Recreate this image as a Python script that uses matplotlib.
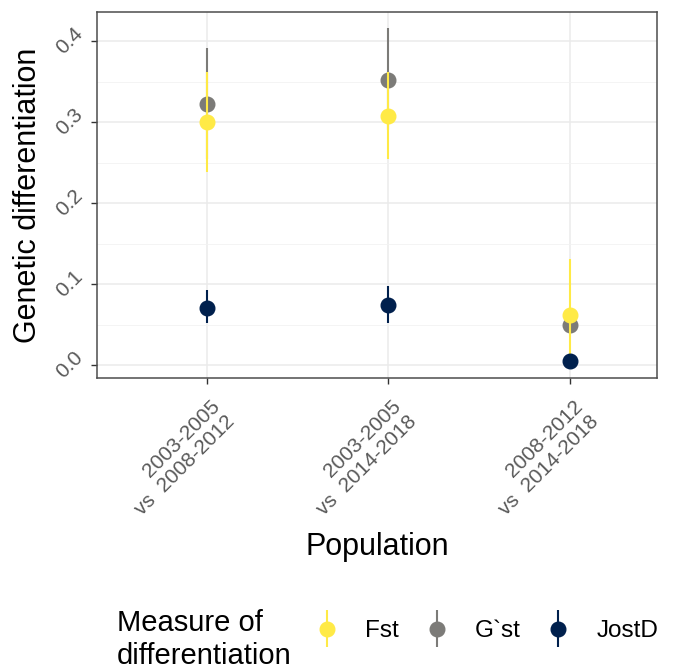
import numpy as np
import matplotlib.pyplot as plt
import matplotlib.transforms as mtransforms
from matplotlib.container import ErrorbarContainer
from matplotlib.legend_handler import HandlerErrorbar

plt.rcParams['font.family'] = ['Liberation Sans', 'DejaVu Sans']

# pairwise comparisons between sampling periods
populations = ['2003-2005\nvs  2008-2012', '2003-2005\nvs  2014-2018', '2008-2012\nvs  2014-2018']
measures = ['Fst', 'G`st', 'JostD']
colours = {'Fst': '#FFEA46', 'G`st': '#7C7B78', 'JostD': '#00204D'}

fst_mean = [0.300, 0.307, 0.062]
fst_low = [0.238, 0.255, 0.006]
fst_high = [0.362, 0.362, 0.131]

gst_mean = [0.322, 0.352, 0.049]
gst_low = [0.255, 0.290, 0.040]
gst_high = [0.391, 0.416, 0.058]

jost_mean = [0.071, 0.074, 0.005]
jost_low = [0.052, 0.052, 0.001]
jost_high = [0.093, 0.098, 0.010]

series = {
    'Fst': (fst_mean, fst_low, fst_high),
    'G`st': (gst_mean, gst_low, gst_high),
    'JostD': (jost_mean, jost_low, jost_high),
}
zorders = {'G`st': 3, 'Fst': 4, 'JostD': 5}

fig = plt.figure(figsize=(6.77, 6.69), dpi=100)
ax = fig.add_axes([97 / 677, 1 - 378 / 669, 560 / 677, 366 / 669])

x = np.arange(1, len(populations) + 1)
handles = {}
for m in measures:
    mean, low, high = (np.array(v) for v in series[m])
    err = np.vstack([mean - low, high - mean])
    h = ax.errorbar(x, mean, yerr=err, fmt='o', color=colours[m], ms=10.5,
                    elinewidth=1.5, capsize=0, zorder=zorders[m], label=m)
    handles[m] = h

ax.set_xlim(0.395, 3.48)
ax.set_ylim(-0.016, 0.436)
ax.set_xticks(x)
ax.set_xticklabels(populations)
ax.set_yticks([0.0, 0.1, 0.2, 0.3, 0.4])
ax.set_yticks([0.05, 0.15, 0.25, 0.35], minor=True)
ax.set_yticklabels(['0.0', '0.1', '0.2', '0.3', '0.4'])

ax.grid(True, which='major', color='#EBEBEB', lw=1.1, zorder=0)
ax.grid(True, which='minor', axis='y', color='#F2F2F2', lw=0.6, zorder=0)
ax.set_axisbelow(True)
for s in ax.spines.values():
    s.set_color('#4D4D4D')
    s.set_linewidth(1.1)

ax.tick_params(axis='both', which='major', length=4, width=1.0, color='#333333',
               labelcolor='#595959', labelsize=15)
ax.tick_params(axis='y', which='minor', length=0)
for lab in ax.get_yticklabels():
    lab.set_rotation(45)
    lab.set_ha('right')
    lab.set_va('center')
shift = mtransforms.ScaledTranslation(0.03, -0.08, fig.dpi_scale_trans)
for lab in ax.get_xticklabels():
    lab.set_rotation(45)
    lab.set_rotation_mode('anchor')
    lab.set_ha('right')
    lab.set_va('top')
    lab.set_multialignment('right')
    lab.set_transform(lab.get_transform() + shift)

ax.set_xlabel('Population', fontsize=22, va='center')
ax.set_ylabel('Genetic differentiation', fontsize=22, va='center')
ax.xaxis.set_label_coords(0.5, (378 - 547) / 366)
ax.yaxis.set_label_coords((28 - 97) / 560, 0.5)

# legend along the bottom with its title on the left
fig.text(117 / 677, 1 - 609 / 669, 'Measure of\ndifferentiation', fontsize=21,
         ha='left', va='top', linespacing=1.25)
leg = fig.legend([handles[m] for m in measures], measures, loc='center left',
                 bbox_to_anchor=(315 / 677, 1 - 631 / 669), ncol=3, frameon=False,
                 fontsize=17.5, handlelength=1.0, handletextpad=1.06, columnspacing=1.06,
                 borderpad=0, borderaxespad=0,
                 handler_map={ErrorbarContainer: HandlerErrorbar(yerr_size=0.76)})

fig.savefig('out.png', dpi=100)
